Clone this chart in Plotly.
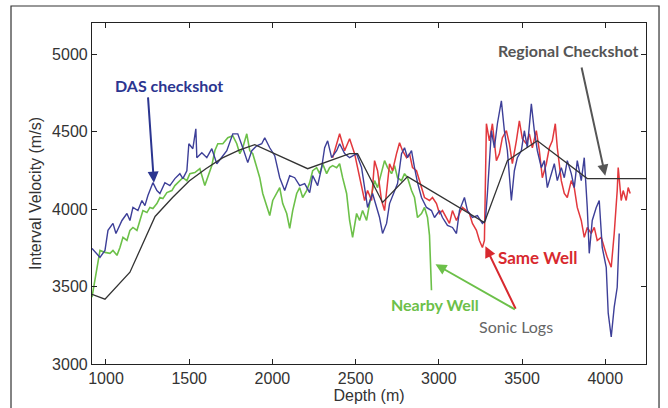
import plotly.graph_objects as go

# regional checkshot (piecewise linear)
reg_depth = [916, 994, 1144, 1295, 1400, 1500, 1600, 1700, 1800, 1894, 2212,
             2464, 2512, 2662, 2812, 3274, 3412, 3592, 3892, 4245]
reg_vel = [3450, 3418, 3592, 3952, 4074, 4180, 4260, 4330, 4380, 4415, 4260,
           4357, 4357, 4042, 4209, 3913, 4312, 4440, 4196, 4196]

# DAS checkshot
das_depth = [916, 964, 994, 1012, 1042, 1060, 1096, 1126, 1144, 1162, 1192, 1216,
             1234, 1252, 1282, 1306, 1324, 1354, 1384, 1414, 1444, 1462, 1486, 1498,
             1522, 1540, 1546, 1576, 1606, 1636, 1666, 1696, 1726, 1762, 1792, 1822,
             1852, 1876, 1906, 1936, 1954, 1984, 2014, 2044, 2074, 2104, 2134, 2164,
             2194, 2224, 2242, 2272, 2296, 2314, 2332, 2356, 2386, 2404, 2434, 2464,
             2506, 2536, 2554, 2572, 2602, 2626, 2644, 2662, 2686, 2704, 2734, 2752,
             2776, 2794, 2812, 2836, 2854, 2872, 2896, 2926, 2956, 2974, 3004, 3022,
             3052, 3082, 3106, 3124, 3154, 3172, 3202, 3232, 3262, 3280, 3292, 3304,
             3316, 3334, 3352, 3376, 3394, 3412, 3436, 3454, 3472, 3496, 3514, 3532,
             3556, 3574, 3592, 3616, 3634, 3652, 3676, 3694, 3712, 3736, 3754, 3772,
             3796, 3814, 3832, 3856, 3874, 3892, 3904, 3922, 3946, 3964, 3982, 4006,
             4018, 4036, 4054, 4072, 4084]
das_vel = [3746, 3688, 3733, 3862, 3907, 3842, 3926, 3971, 3926, 4010, 3990, 4055,
           4022, 4087, 4170, 4119, 4100, 4170, 4151, 4196, 4228, 4196, 4247, 4421,
           4389, 4517, 4331, 4363, 4331, 4389, 4292, 4331, 4376, 4485, 4485, 4395,
           4299, 4376, 4408, 4421, 4460, 4395, 4344, 4202, 4119, 4215, 4202, 4151,
           4164, 4106, 4215, 4151, 4267, 4395, 4440, 4331, 4376, 4421, 4357, 4331,
           4357, 4267, 4138, 4010, 4100, 4010, 3945, 3842, 3907, 4035, 4119, 4164,
           4357, 4395, 4331, 4376, 4267, 4170, 4074, 4010, 3990, 3945, 3990, 3945,
           3894, 3881, 3842, 3990, 4074, 3990, 3945, 3958, 3907, 3926, 4100, 4312,
           4505, 4395, 4550, 4698, 4505, 4376, 4055, 4247, 4331, 4376, 4505, 4395,
           4678, 4505, 4376, 4267, 4312, 4138, 4228, 4292, 4183, 4267, 4202, 4312,
           4228, 4138, 4312, 4183, 4331, 4010, 3714, 3926, 4010, 4055, 3752, 3624,
           3328, 3174, 3367, 3495, 3842]

# sonic log, nearby well
near_depth = [916, 964, 994, 1024, 1042, 1066, 1084, 1102, 1126, 1144, 1162, 1186,
              1204, 1222, 1246, 1264, 1282, 1306, 1324, 1342, 1366, 1396, 1414, 1432,
              1462, 1486, 1504, 1534, 1564, 1594, 1612, 1636, 1654, 1672, 1702, 1732,
              1762, 1786, 1804, 1822, 1846, 1864, 1882, 1906, 1924, 1942, 1966, 1984,
              2002, 2026, 2044, 2062, 2086, 2104, 2122, 2146, 2164, 2182, 2206, 2224,
              2242, 2266, 2284, 2302, 2326, 2344, 2362, 2386, 2404, 2422, 2446, 2464,
              2482, 2506, 2524, 2542, 2566, 2584, 2614, 2632, 2656, 2674, 2692, 2716,
              2734, 2752, 2776, 2794, 2812, 2836, 2854, 2872, 2896, 2914, 2932, 2944,
              2956]
near_vel = [3431, 3733, 3720, 3714, 3733, 3701, 3752, 3817, 3797, 3862, 3881, 3862,
            3926, 3990, 3977, 4010, 4003, 4035, 4074, 4067, 4106, 4119, 4151, 4170,
            4202, 4183, 4228, 4235, 4260, 4151, 4202, 4280, 4376, 4421, 4421, 4460,
            4472, 4421, 4357, 4395, 4485, 4376, 4357, 4267, 4202, 4100, 4010, 3958,
            4055, 4100, 4138, 4035, 3971, 3875, 3990, 4100, 4138, 4074, 4119, 4170,
            4247, 4267, 4228, 4292, 4228, 4267, 4280, 4267, 4292, 4202, 4100, 3926,
            3817, 3971, 3926, 3990, 3926, 4035, 4183, 4138, 4247, 4312, 4267, 4228,
            4280, 4202, 4183, 4228, 4202, 4119, 4074, 3945, 3971, 4010, 3945, 3830,
            3476]

# sonic log, same well
same_depth = [2362, 2404, 2434, 2464, 2494, 2512, 2536, 2554, 2572, 2596, 2614, 2632,
              2656, 2674, 2704, 2722, 2746, 2764, 2782, 2806, 2824, 2842, 2866, 2884,
              2914, 2944, 2962, 2986, 3004, 3022, 3046, 3064, 3082, 3106, 3124, 3142,
              3166, 3184, 3202, 3226, 3244, 3262, 3274, 3286, 3304, 3322, 3346, 3364,
              3382, 3406, 3424, 3442, 3466, 3484, 3502, 3526, 3544, 3562, 3586, 3604,
              3622, 3646, 3664, 3682, 3700, 3712, 3736, 3754, 3772, 3796, 3814, 3832,
              3856, 3874, 3892, 3916, 3934, 3952, 3976, 3994, 4012, 4036, 4054, 4072,
              4078, 4096, 4108, 4126, 4138, 4150]
same_vel = [4331, 4485, 4376, 4453, 4357, 4267, 4138, 4055, 4119, 4055, 4312, 4247,
            4055, 3990, 4292, 4247, 4357, 4427, 4376, 4331, 4357, 4267, 4247, 4183,
            4074, 4055, 4074, 4035, 3971, 3990, 3945, 3907, 3990, 3926, 3971, 4010,
            3990, 3971, 3907, 3862, 3797, 3752, 3797, 4550, 4440, 4550, 4312, 4357,
            4460, 4505, 4421, 4292, 4440, 4569, 4453, 4421, 4485, 4395, 4505, 4376,
            4202, 4292, 4395, 4440, 4550, 4395, 4183, 4100, 4074, 4183, 4138, 4010,
            3926, 3817, 3881, 3842, 3881, 3797, 3817, 3752, 3688, 3624, 3842, 4119,
            4267, 4055, 4119, 4055, 4138, 4100]

xticks = [1000, 1500, 2000, 2500, 3000, 3500, 4000]
yticks = [3000, 3500, 4000, 4500, 5000]

BLUE = "#3d3f98"
GREEN = "#6cc049"
RED = "#e2383d"
DARK = "#333333"

fig = go.Figure()
fig.add_trace(go.Scatter(x=near_depth, y=near_vel, mode="lines",
                         line=dict(color=GREEN, width=1.6)))
fig.add_trace(go.Scatter(x=same_depth, y=same_vel, mode="lines",
                         line=dict(color=RED, width=1.5)))
fig.add_trace(go.Scatter(x=das_depth, y=das_vel, mode="lines",
                         line=dict(color=BLUE, width=1.4)))
fig.add_trace(go.Scatter(x=reg_depth, y=reg_vel, mode="lines",
                         line=dict(color=DARK, width=1.3)))

label_font = "Lato, 'Open Sans', sans-serif"


def arrow(tip, tail, color):
    fig.add_annotation(x=tip[0], y=tip[1], ax=tail[0], ay=tail[1],
                       xref="x", yref="y", axref="x", ayref="y", text="",
                       showarrow=True, arrowhead=2, arrowsize=1.1,
                       arrowwidth=2, arrowcolor=color)


def label(x, y, text, color, bold=True, size=16):
    t = "<b>" + text + "</b>" if bold else text
    fig.add_annotation(x=x, y=y, xref="x", yref="y", text=t, showarrow=False,
                       font=dict(family=label_font, size=size, color=color))


arrow((1288, 4170), (1252, 4730), "#2b3590")
label(1378, 4794, "DAS checkshot", "#2b3590")
arrow((4000, 4215), (3856, 4923), "#555555")
label(3778, 5025, "Regional Checkshot", "#555555")
arrow((3280, 3759), (3466, 3347), "#d8292f")
arrow((2980, 3643), (3466, 3347), "#6cc049")
label(3598, 3688, "Same Well", "#d8292f", size=17)
label(2980, 3386, "Nearby Well", "#6cc049")
label(3466, 3244, "Sonic Logs", "#666666", bold=False)

# outer frame of the figure
fig.add_shape(type="rect", xref="paper", yref="paper",
              x0=-0.1462, x1=1.0235, y0=-0.14, y1=1.0499,
              line=dict(color="#333333", width=1.2))

axis_common = dict(showline=True, linecolor="#222222", linewidth=1.2,
                   mirror="ticks", ticks="inside", ticklen=5, tickcolor="#222222",
                   showgrid=False, zeroline=False, automargin=False,
                   tickfont=dict(family="Liberation Sans, Arial", size=16,
                                 color="#333333"))

fig.update_xaxes(range=[916, 4245], tickvals=xticks,
                 title=dict(text="Depth (m)", standoff=0,
                            font=dict(family="Liberation Sans, Arial", size=16,
                                      color="#333333")),
                 **axis_common)
fig.update_yaxes(range=[3000, 5200], tickvals=yticks,
                 title=dict(text="Interval Velocity (m/s)", standoff=6,
                            font=dict(family="Liberation Sans, Arial", size=16,
                                      color="#333333")),
                 **axis_common)

fig.update_layout(
    width=668, height=408,
    margin=dict(l=92, r=22, t=23, b=44),
    paper_bgcolor="white", plot_bgcolor="white",
    showlegend=False,
)

# drop the default page margin so the figure sits at the window's corner
fig.write_html("out.html", config={"displayModeBar": False},
               post_script="document.body.style.margin='0';")
